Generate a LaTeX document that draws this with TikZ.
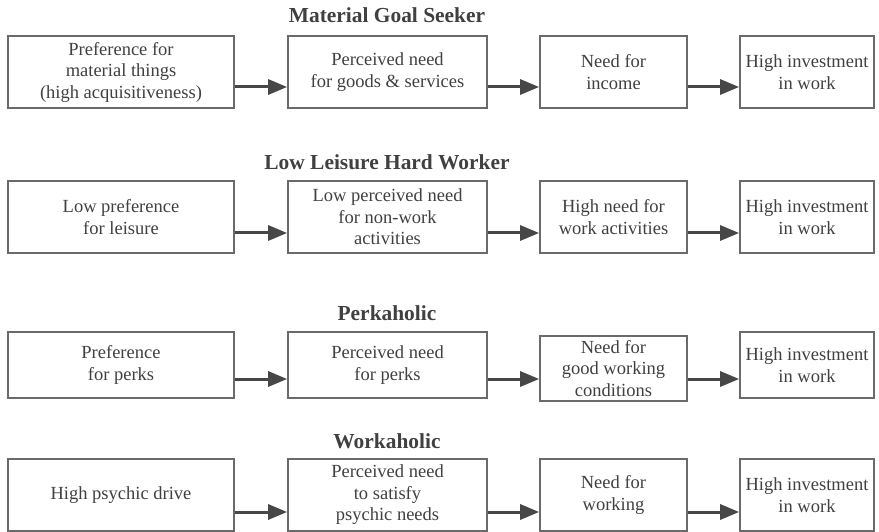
\documentclass[tikz,border=0pt]{standalone}
\usepackage{fontspec}
\setmainfont{Liberation Serif}
\usetikzlibrary{arrows.meta}
\definecolor{txt}{HTML}{404040}
\definecolor{frame}{HTML}{6A6A6A}
\definecolor{arr}{HTML}{474747}
\tikzset{
  stagebox/.style={draw=frame, line width=1.3pt, rectangle, inner sep=0pt, align=center,
    text=txt, font=\rmfamily\fontsize{18.5}{21.5}\selectfont},
  title/.style={text=txt, font=\rmfamily\fontsize{21.4}{25}\selectfont\bfseries, inner sep=0pt},
  flow/.style={draw=arr, line width=3pt, -{Triangle[length=19pt,width=15pt]}, shorten >=0.2pt},
}
\newcommand{\stage}[6]{%
  % name, x-left, x-right, y-top, y-bottom, text
  \node[stagebox, minimum width={(#3-#2)*1pt}, minimum height={(#5-#4)*1pt}]
    (#1) at ({(#2+#3)/2},{(#4+#5)/2}) {#6};}
\begin{document}
\begin{tikzpicture}[x=1pt,y=-1pt]
\useasboundingbox (0,0) rectangle (879,532);

% Row 1
\node[title] (t1) at (387,15) {Material Goal Seeker};
\stage{a1}{8}{234}{36}{108}{Preference for\\material things\\(high acquisitiveness)}
\stage{a2}{288}{487}{36}{108}{Perceived need\\for goods \& services}
\stage{a3}{540}{687}{36}{108}{Need for\\income}
\stage{a4}{740}{874}{36}{108}{High investment\\in work}
\coordinate (ya) at (0,87);
\draw[flow] (a1.east |- ya) -- (a2.west |- ya);
\draw[flow] (a2.east |- ya) -- (a3.west |- ya);
\draw[flow] (a3.east |- ya) -- (a4.west |- ya);

% Row 2
\node[title] (t2) at (387,162) {Low Leisure Hard Worker};
\stage{b1}{8}{234}{181}{253}{Low preference\\for leisure}
\stage{b2}{288}{487}{181}{253}{Low perceived need\\for non-work\\activities}
\stage{b3}{540}{687}{181}{253}{High need for\\work activities}
\stage{b4}{740}{874}{181}{253}{High investment\\in work}
\coordinate (yb) at (0,233);
\draw[flow] (b1.east |- yb) -- (b2.west |- yb);
\draw[flow] (b2.east |- yb) -- (b3.west |- yb);
\draw[flow] (b3.east |- yb) -- (b4.west |- yb);

% Row 3
\node[title] (t3) at (387,313) {Perkaholic};
\stage{c1}{8}{234}{332}{398}{Preference\\for perks}
\stage{c2}{288}{487}{332}{398}{Perceived need\\for perks}
\stage{c3}{540}{687}{336}{401}{Need for\\good working\\conditions}
\stage{c4}{740}{874}{332}{398}{High investment\\in work}
\coordinate (yc) at (0,379);
\draw[flow] (c1.east |- yc) -- (c2.west |- yc);
\draw[flow] (c2.east |- yc) -- (c3.west |- yc);
\draw[flow] (c3.east |- yc) -- (c4.west |- yc);

% Row 4
\node[title] (t4) at (387,441) {Workaholic};
\stage{d1}{8}{234}{459}{531}{High psychic drive}
\stage{d2}{288}{487}{459}{531}{Perceived need\\to satisfy\\psychic needs}
\stage{d3}{540}{687}{459}{531}{Need for\\working}
\stage{d4}{740}{874}{459}{531}{High investment\\in work}
\coordinate (yd) at (0,512);
\draw[flow] (d1.east |- yd) -- (d2.west |- yd);
\draw[flow] (d2.east |- yd) -- (d3.west |- yd);
\draw[flow] (d3.east |- yd) -- (d4.west |- yd);
\end{tikzpicture}
\end{document}
